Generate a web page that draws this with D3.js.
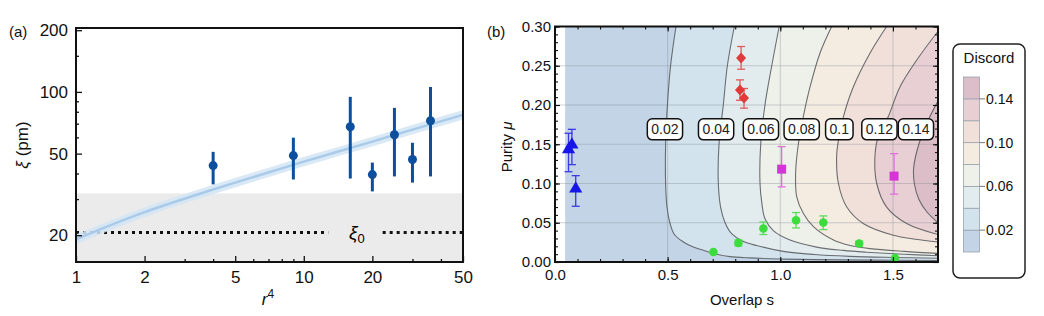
<!DOCTYPE html>
<html>
<head>
<meta charset="utf-8">
<script src="https://cdn.jsdelivr.net/npm/d3@7"></script>
<style>
  body { margin: 0; background: #fff; }
  svg { display: block; font-family: "Liberation Sans", Arial, sans-serif; }
</style>
</head>
<body>
<svg id="chart" width="1044" height="316"></svg>
<script>
// ---------- panel (a) data
var r4 = [4, 9, 16, 20, 25, 30, 36];
var xi = [43.7, 48.9, 67.6, 39.5, 61.8, 46.8, 72.3];
var xiHi = [51, 59.8, 94.6, 45.2, 83.6, 56.5, 105.7];
var xiLo = [35.4, 37.4, 37.8, 32.7, 38.7, 36.1, 38.7];
var fitX = [1, 2, 4, 5, 10, 20, 30, 50];
var fitY = [19.1, 25.9, 33.4, 36.1, 45.7, 57.2, 65.5, 77.3];
var xi0 = 20.6;
var shadeTop = 32;
var xMajorA = [1, 2, 5, 10, 20, 50];
var xMinorA = [3, 4, 6, 7, 8, 9, 30, 40];
var yMajorA = [20, 50, 100, 200];
var yMinorA = [30, 40, 60, 70, 80, 90, 150];

// ---------- panel (b) data
var levels = ["0.02", "0.04", "0.06", "0.08", "0.1", "0.12", "0.14"];
// contour lines, [s, mu]
var c002 = [[0.537,0.30],[0.513,0.25],[0.499,0.20],[0.491,0.15],[0.491,0.10],[0.497,0.07],[0.51,0.05],[0.53,0.035],[0.57,0.0255],[0.614,0.019],[0.658,0.015],[0.717,0.0098],[0.777,0.0068],[0.865,0.0052],[1.0,0.0038],[1.16,0.003],[1.4,0.0024],[1.7,0.002]];
var c004 = [[0.796,0.30],[0.765,0.25],[0.747,0.20],[0.728,0.15],[0.725,0.10],[0.735,0.07],[0.755,0.05],[0.784,0.036],[0.83,0.027],[0.895,0.021],[1.013,0.0135],[1.15,0.0095],[1.309,0.0072],[1.5,0.0058],[1.7,0.0048]];
var c006 = [[0.995,0.30],[0.962,0.25],[0.932,0.20],[0.913,0.15],[0.91,0.10],[0.918,0.075],[0.932,0.055],[0.969,0.040],[1.043,0.028],[1.161,0.019],[1.28,0.0148],[1.383,0.0125],[1.55,0.0098],[1.7,0.008]];
var c008 = [[1.228,0.30],[1.176,0.266],[1.132,0.223],[1.102,0.185],[1.08,0.15],[1.068,0.113],[1.073,0.083],[1.102,0.062],[1.147,0.045],[1.236,0.028],[1.31,0.021],[1.398,0.017],[1.55,0.0135],[1.7,0.011]];
var c010 = [[1.472,0.30],[1.398,0.266],[1.324,0.223],[1.28,0.185],[1.258,0.155],[1.25,0.134],[1.258,0.100],[1.295,0.070],[1.368,0.049],[1.502,0.034],[1.6,0.029],[1.7,0.0255]];
var c012 = [[1.70,0.294],[1.605,0.257],[1.531,0.223],[1.479,0.185],[1.435,0.16],[1.42,0.134],[1.428,0.100],[1.472,0.070],[1.561,0.049],[1.7,0.035]];
var c014 = [[1.7,0.205],[1.657,0.181],[1.615,0.15],[1.592,0.12],[1.595,0.10],[1.615,0.08],[1.65,0.064],[1.7,0.05]];
var contourLines = [c002, c004, c006, c008, c010, c012, c014];
var labelS = [0.488, 0.715, 0.914, 1.095, 1.262, 1.44, 1.602];
var labelMu = 0.169;
var bandColors = ["#c2d4e5", "#d2e3ee", "#e2ecef", "#eef1ea", "#f4ece1", "#f1e0da", "#e8cfd3", "#dbbec8"];
var legendTicks = [0.02, 0.06, 0.10, 0.14];

var triS = [0.06, 0.075, 0.092], triMu = [0.142, 0.148, 0.092], triLo = [0.115, 0.124, 0.071], triHi = [0.164, 0.169, 0.110];
var diaS = [0.826, 0.821, 0.839], diaMu = [0.26, 0.219, 0.209], diaLo = [0.2456, 0.206, 0.196], diaHi = [0.2745, 0.232, 0.221];
var sqS = [1.006, 1.505], sqMu = [0.1183, 0.1094], sqLo = [0.0957, 0.0864], sqHi = [0.147, 0.138];
var cirS = [0.703, 0.814, 0.925, 1.07, 1.191, 1.35, 1.509];
var cirMu = [0.0128, 0.0243, 0.0426, 0.0532, 0.0503, 0.0235, 0.0051];
var cirLo = [0.0128, 0.0205, 0.035, 0.0434, 0.0413, 0.0205, 0.0051];
var cirHi = [0.0128, 0.028, 0.051, 0.063, 0.0587, 0.0265, 0.0051];

var svg = d3.select("#chart");

// ================= panel (a)
var xA = d3.scaleLog().domain([1, 50]).range([76, 463]);
var yA = d3.scaleLog().domain([14.8, 205]).range([262, 28]);
var gA = svg.append("g");

gA.append("rect")
  .attr("x", xA(1)).attr("y", yA(shadeTop))
  .attr("width", xA(50) - xA(1)).attr("height", yA(14.8) - yA(shadeTop))
  .attr("fill", "#ebebeb");

// dotted xi0 line, broken for the label
gA.selectAll("line.xi0").data([[1, 12.8], [22.2, 50]]).enter().append("line")
  .attr("x1", function(d) { return xA(d[0]); })
  .attr("x2", function(d) { return xA(d[1]); })
  .attr("y1", yA(xi0)).attr("y2", yA(xi0))
  .attr("stroke", "#111").attr("stroke-width", 3).attr("stroke-dasharray", "3,4");

var xiLab = gA.append("text").attr("x", xA(17.1)).attr("y", yA(xi0) + 6)
  .attr("text-anchor", "middle").attr("font-size", 19);
xiLab.append("tspan").attr("font-style", "italic").text("ξ");
xiLab.append("tspan").attr("font-size", 13).attr("dy", 4).text("0");

var fitLine = d3.line()
  .x(function(d, i) { return xA(fitX[i]); })
  .y(function(d) { return yA(d); })
  .curve(d3.curveMonotoneX);
gA.append("path").attr("d", fitLine(fitY)).attr("fill", "none")
  .attr("stroke", "#d3e5f5").attr("stroke-width", 9).attr("opacity", 0.85);
gA.append("path").attr("d", fitLine(fitY)).attr("fill", "none")
  .attr("stroke", "#a9cae9").attr("stroke-width", 2.5);

var ptsA = gA.selectAll("g.pt").data(r4).enter().append("g");
ptsA.append("line")
  .attr("x1", function(d) { return xA(d); }).attr("x2", function(d) { return xA(d); })
  .attr("y1", function(d, i) { return yA(xiLo[i]); })
  .attr("y2", function(d, i) { return yA(xiHi[i]); })
  .attr("stroke", "#0c4f9e").attr("stroke-width", 3);
ptsA.append("circle")
  .attr("cx", function(d) { return xA(d); })
  .attr("cy", function(d, i) { return yA(xi[i]); })
  .attr("r", 4.5).attr("fill", "#0c4f9e");

// axes (ticks inside)
var fmtA = d3.format("d");
gA.append("g").attr("transform", "translate(0,262)")
  .call(d3.axisBottom(xA).tickValues(xMinorA).tickSizeInner(-3).tickSizeOuter(0).tickFormat(""));
gA.append("g").attr("transform", "translate(0,262)")
  .call(d3.axisBottom(xA).tickValues(xMajorA).tickSizeInner(-6).tickSizeOuter(0).tickPadding(9).tickFormat(fmtA));
gA.append("g").attr("transform", "translate(76,0)")
  .call(d3.axisLeft(yA).tickValues(yMinorA).tickSizeInner(-3).tickSizeOuter(0).tickFormat(""));
gA.append("g").attr("transform", "translate(76,0)")
  .call(d3.axisLeft(yA).tickValues(yMajorA).tickSizeInner(-6).tickSizeOuter(0).tickPadding(8).tickFormat(fmtA));
gA.selectAll(".domain").remove();
gA.selectAll(".tick line").attr("stroke", "#111").attr("stroke-width", 1.3);
gA.selectAll(".tick text").attr("font-size", 17).attr("fill", "#111").attr("font-family", null);

gA.append("rect").attr("x", 76).attr("y", 28).attr("width", 387).attr("height", 234)
  .attr("fill", "none").attr("stroke", "#111").attr("stroke-width", 2);

var yLabA = gA.append("text").attr("transform", "translate(28,145) rotate(-90)")
  .attr("text-anchor", "middle").attr("font-size", 17).attr("fill", "#111");
yLabA.append("tspan").attr("font-style", "italic").text("ξ");
yLabA.append("tspan").text(" (pm)");

var xLabA = gA.append("text").attr("x", 268).attr("y", 305)
  .attr("text-anchor", "middle").attr("font-size", 17).attr("fill", "#111");
xLabA.append("tspan").attr("font-style", "italic").text("r");
xLabA.append("tspan").attr("font-size", 12).attr("dy", -7).text("4");

svg.append("text").attr("x", 9).attr("y", 37).attr("font-size", 15).attr("fill", "#111").text("(a)");
svg.append("text").attr("x", 487).attr("y", 37).attr("font-size", 15).attr("fill", "#111").text("(b)");

// ================= panel (b)
var xB = d3.scaleLinear().domain([0, 1.7]).range([555, 938]);
var yB = d3.scaleLinear().domain([0, 0.3]).range([262, 26.5]);
var gB = svg.append("g");

svg.append("clipPath").attr("id", "clipB").append("rect")
  .attr("x", xB(0)).attr("y", yB(0.3)).attr("width", xB(1.7) - xB(0)).attr("height", yB(0) - yB(0.3));

var fillG = gB.append("g").attr("clip-path", "url(#clipB)");
fillG.append("rect")
  .attr("x", xB(0.045)).attr("y", yB(0.3))
  .attr("width", xB(1.7) - xB(0.045)).attr("height", yB(0) - yB(0.3))
  .attr("fill", bandColors[0]);

var cLine = d3.line()
  .x(function(d) { return xB(d[0]); })
  .y(function(d) { return yB(d[1]); })
  .curve(d3.curveCatmullRom.alpha(0.5));

contourLines.forEach(function(pts, k) {
  var p = cLine(pts) + "L" + xB(1.75) + "," + yB(pts[pts.length - 1][1]) +
    "L" + xB(1.75) + "," + yB(0.31) + "L" + xB(pts[0][0]) + "," + yB(0.31) + "Z";
  fillG.append("path").attr("d", p).attr("fill", bandColors[k + 1]);
});

// grid
fillG.selectAll("line.gh").data([0.05, 0.10, 0.15, 0.20, 0.25]).enter().append("line")
  .attr("x1", xB(0)).attr("x2", xB(1.7))
  .attr("y1", function(d) { return yB(d); }).attr("y2", function(d) { return yB(d); })
  .attr("stroke", "#8a8f96").attr("stroke-opacity", 0.4).attr("stroke-width", 1);
fillG.selectAll("line.gv").data([0.5, 1.0, 1.5]).enter().append("line")
  .attr("y1", yB(0)).attr("y2", yB(0.3))
  .attr("x1", function(d) { return xB(d); }).attr("x2", function(d) { return xB(d); })
  .attr("stroke", "#8a8f96").attr("stroke-opacity", 0.4).attr("stroke-width", 1);

fillG.selectAll("path.cl").data(contourLines).enter().append("path")
  .attr("d", cLine).attr("fill", "none")
  .attr("stroke", "#55575b").attr("stroke-opacity", 0.85).attr("stroke-width", 1.1);

// contour labels
levels.forEach(function(t, i) {
  var lg = gB.append("g");
  var tx = lg.append("text").attr("x", xB(labelS[i])).attr("y", yB(labelMu) + 5)
    .attr("text-anchor", "middle").attr("font-size", 14).attr("fill", "#222").text(t);
  var w = tx.node().getComputedTextLength() + 8;
  lg.insert("rect", "text")
    .attr("x", xB(labelS[i]) - w / 2).attr("y", yB(labelMu) - 10.5)
    .attr("width", w).attr("height", 21).attr("rx", 5)
    .attr("fill", "#fff").attr("stroke", "#111").attr("stroke-width", 1.5);
});

// error bars helper
function errBars(g, sArr, lo, hi, col) {
  var sel = g.selectAll(null).data(d3.range(sArr.length)).enter().append("g")
    .filter(function(i) { return hi[i] > lo[i]; });
  sel.append("line")
    .attr("x1", function(i) { return xB(sArr[i]); }).attr("x2", function(i) { return xB(sArr[i]); })
    .attr("y1", function(i) { return yB(lo[i]); })
    .attr("y2", function(i) { return yB(hi[i]); })
    .attr("stroke", col).attr("stroke-width", 1.3);
  [lo, hi].forEach(function(arr) {
    sel.append("line")
      .attr("x1", function(i) { return xB(sArr[i]) - 4; }).attr("x2", function(i) { return xB(sArr[i]) + 4; })
      .attr("y1", function(i) { return yB(arr[i]); })
      .attr("y2", function(i) { return yB(arr[i]); })
      .attr("stroke", col).attr("stroke-width", 1.3);
  });
}

var mk = gB.append("g");
errBars(mk, triS, triLo, triHi, "#3a3ae6");
errBars(mk, diaS, diaLo, diaHi, "#e25a5a");
errBars(mk, sqS, sqLo, sqHi, "#e070e0");
errBars(mk, cirS, cirLo, cirHi, "#5cdc5c");

mk.selectAll("path.tri").data(triS).enter().append("path")
  .attr("d", d3.symbol().type(d3.symbolTriangle).size(75))
  .attr("transform", function(d, i) { return "translate(" + xB(d) + "," + (yB(triMu[i]) - 1) + ")"; })
  .attr("fill", "#1616e8");
mk.selectAll("path.dia").data(diaS).enter().append("path")
  .attr("d", "M0,-5.5L5,0L0,5.5L-5,0Z")
  .attr("transform", function(d, i) { return "translate(" + xB(d) + "," + yB(diaMu[i]) + ")"; })
  .attr("fill", "#e03a3a");
mk.selectAll("rect.sq").data(sqS).enter().append("rect")
  .attr("x", function(d) { return xB(d) - 4.5; })
  .attr("y", function(d, i) { return yB(sqMu[i]) - 4.5; })
  .attr("width", 9).attr("height", 9).attr("fill", "#d634d6");
mk.selectAll("circle.cir").data(cirS).enter().append("circle")
  .attr("cx", function(d) { return xB(d); })
  .attr("cy", function(d, i) { return yB(cirMu[i]); })
  .attr("r", 4.3).attr("fill", "#3ddc3d");

// axes, ticks inside on all sides
var xMajorB = [0, 0.5, 1.0, 1.5], xMinorB = d3.range(0, 1.71, 0.1);
var yMajorB = [0, 0.05, 0.10, 0.15, 0.20, 0.25, 0.30], yMinorB = d3.range(0, 0.301, 0.01);
var axB = gB.append("g");
axB.append("g").attr("transform", "translate(0,262)")
  .call(d3.axisBottom(xB).tickValues(xMinorB).tickSizeInner(-3).tickSizeOuter(0).tickFormat(""));
axB.append("g").attr("transform", "translate(0,262)")
  .call(d3.axisBottom(xB).tickValues(xMajorB).tickSizeInner(-5).tickSizeOuter(0).tickPadding(7).tickFormat(d3.format(".1f")));
axB.append("g").attr("transform", "translate(0,26.5)")
  .call(d3.axisTop(xB).tickValues(xMinorB).tickSizeInner(-3).tickSizeOuter(0).tickFormat(""));
axB.append("g").attr("transform", "translate(0,26.5)")
  .call(d3.axisTop(xB).tickValues(xMajorB).tickSizeInner(-5).tickSizeOuter(0).tickFormat(""));
axB.append("g").attr("transform", "translate(555,0)")
  .call(d3.axisLeft(yB).tickValues(yMinorB).tickSizeInner(-3).tickSizeOuter(0).tickFormat(""));
axB.append("g").attr("transform", "translate(555,0)")
  .call(d3.axisLeft(yB).tickValues(yMajorB).tickSizeInner(-5).tickSizeOuter(0).tickPadding(4).tickFormat(d3.format(".2f")));
axB.append("g").attr("transform", "translate(938,0)")
  .call(d3.axisRight(yB).tickValues(yMinorB).tickSizeInner(-3).tickSizeOuter(0).tickFormat(""));
axB.append("g").attr("transform", "translate(938,0)")
  .call(d3.axisRight(yB).tickValues(yMajorB).tickSizeInner(-5).tickSizeOuter(0).tickFormat(""));
axB.selectAll(".domain").remove();
axB.selectAll(".tick line").attr("stroke", "#111").attr("stroke-width", 1.1);
axB.selectAll(".tick text").attr("font-size", 15).attr("fill", "#111").attr("font-family", null);

gB.append("rect").attr("x", 555).attr("y", 26.5).attr("width", 383).attr("height", 235.5)
  .attr("fill", "none").attr("stroke", "#111").attr("stroke-width", 2);

var yLabB = gB.append("text").attr("transform", "translate(512,147) rotate(-90)")
  .attr("text-anchor", "middle").attr("font-size", 15).attr("fill", "#111");
yLabB.append("tspan").text("Purity ");
yLabB.append("tspan").attr("font-style", "italic").text("μ");
gB.append("text").attr("x", xB(0.83)).attr("y", 305).attr("text-anchor", "middle")
  .attr("font-size", 15).attr("fill", "#111").text("Overlap s");

// ================= legend
var gL = svg.append("g");
gL.append("rect").attr("x", 953).attr("y", 44).attr("width", 72).attr("height", 234).attr("rx", 7)
  .attr("fill", "#fff").attr("stroke", "#222").attr("stroke-width", 1.5);
gL.append("text").attr("x", 989).attr("y", 63).attr("text-anchor", "middle")
  .attr("font-size", 15).attr("fill", "#111").text("Discord");
var yL = d3.scaleLinear().domain([0, 0.16]).range([252, 77]);
gL.selectAll("rect.band").data(bandColors).enter().append("rect")
  .attr("x", 963.5).attr("width", 16)
  .attr("y", function(d, i) { return yL((i + 1) * 0.02); })
  .attr("height", function(d, i) { return yL(i * 0.02) - yL((i + 1) * 0.02); })
  .attr("fill", function(d) { return d; })
  .attr("stroke", "#9aa3b0").attr("stroke-width", 0.8);
gL.selectAll("line.lt").data(legendTicks).enter().append("line")
  .attr("x1", 979.5).attr("x2", 985)
  .attr("y1", function(d) { return yL(d); }).attr("y2", function(d) { return yL(d); })
  .attr("stroke", "#777").attr("stroke-width", 1);
gL.selectAll("text.lt").data(legendTicks).enter().append("text")
  .attr("x", 986).attr("y", function(d) { return yL(d) + 5; })
  .attr("font-size", 14).attr("fill", "#111").text(d3.format(".2f"));
</script>
</body>
</html>
